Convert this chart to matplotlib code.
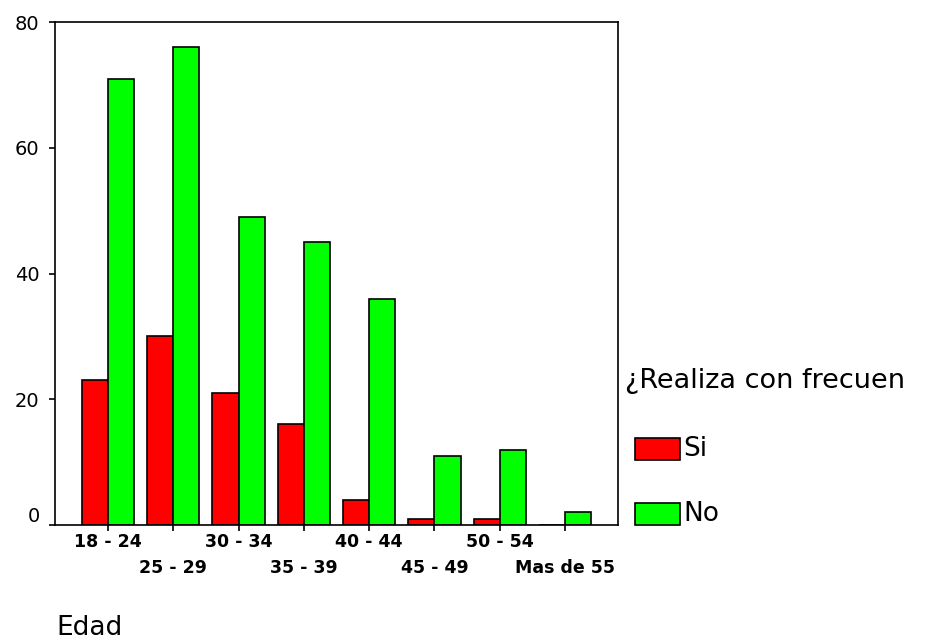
import matplotlib
matplotlib.use("Agg")
import matplotlib.pyplot as plt
import matplotlib.transforms as mtransforms
from matplotlib.patches import Rectangle
import numpy as np

categories = ["18 - 24", "25 - 29", "30 - 34", "35 - 39", "40 - 44",
              "45 - 49", "50 - 54", "Mas de 55"]
si_values = [23, 30, 21, 16, 4, 1, 1, 0]
no_values = [71, 76, 49, 45, 36, 11, 12, 2]
series_names = ["Si", "No"]
series_colors = ["#FF0000", "#00FF00"]
y_ticks = [0, 20, 40, 60, 80]
legend_title = "¿Realiza con frecuen"
x_title = "Edad"

plt.rcParams['font.family'] = ['DejaVu Sans']

fig = plt.figure(figsize=(9.40, 6.43), dpi=100)
W, H = 940, 643
ax = fig.add_axes([55 / W, 1 - 525 / H, (618 - 55) / W, (525 - 22) / H])

x = np.arange(len(categories))
bw = 0.4
ax.bar(x - bw / 2, si_values, width=bw, color=series_colors[0],
       edgecolor="black", linewidth=1.2)
ax.bar(x + bw / 2, no_values, width=bw, color=series_colors[1],
       edgecolor="black", linewidth=1.2)

ax.set_xlim(-0.81, len(categories) - 1 + 0.81)
ax.set_ylim(0, 80)
ax.set_yticks(y_ticks)
ax.set_yticklabels([str(v) for v in y_ticks], fontsize=14)
ax.set_xticks(x)
ax.set_xticklabels(categories, fontsize=12.5, fontweight="bold")

for s in ax.spines.values():
    s.set_linewidth(1.2)
    s.set_color("black")

ax.tick_params(axis="y", length=4, width=1.2, pad=7, colors="black")
ax.tick_params(axis="x", length=4, width=1.2, colors="black")

ticks = ax.xaxis.get_major_ticks()
for i, t in enumerate(ticks):
    t.set_pad(2 if i % 2 == 0 else 20.5)

# shift the 0 label up like the reference
lab0 = ax.yaxis.get_major_ticks()[0].label1
lab0.set_transform(lab0.get_transform() +
                   mtransforms.ScaledTranslation(0, 0.10, fig.dpi_scale_trans))

# legend drawn manually
fig.text(625 / W, 1 - 381 / H, legend_title, fontsize=19.5, va="center", ha="left")
rows_y = [449, 514]
for name, col, yc in zip(series_names, series_colors, rows_y):
    fig.patches.append(Rectangle((635 / W, 1 - (yc + 11) / H), 45 / W, 22 / H,
                                 transform=fig.transFigure, facecolor=col,
                                 edgecolor="black", linewidth=1.2))
    fig.text(683 / W, 1 - yc / H, name, fontsize=19, va="center", ha="left")

fig.text(56 / W, 1 - 628 / H, x_title, fontsize=19, va="center", ha="left")

fig.savefig("out.png", dpi=100)
